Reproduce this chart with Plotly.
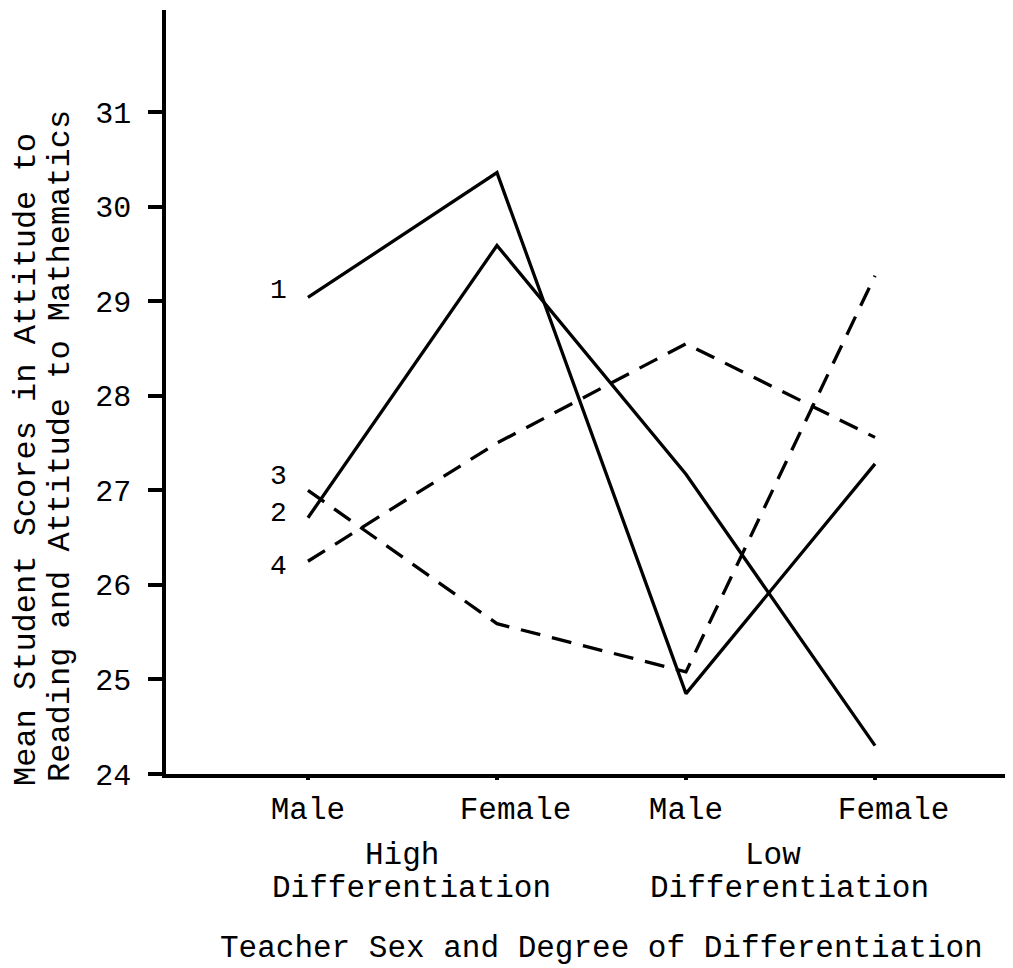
import plotly.graph_objects as go

# ---- data ----
categories = ["Male", "Female", "Male", "Female"]
tick_labels = ["Male", "\u00a0\u00a0Female", "Male", "\u00a0\u00a0Female"]
x_pos = [1, 2, 3, 4]
series_names = ["1", "2", "3", "4"]
line1 = [29.04, 30.36, 24.85, 27.28]
line2 = [26.71, 29.59, 27.17, 24.30]
line3 = [27.00, 25.59, 25.08, 29.27]
line4 = [26.25, 27.50, 28.55, 27.56]
y_ticks = [24, 25, 26, 27, 28, 29, 30, 31]
group_labels = [("High", "Differentiation"), ("Low", "Differentiation")]
x_title = "Teacher Sex and Degree of Differentiation"
y_title_lines = ["Mean Student Scores in Attitude to", "Reading and Attitude to Mathematics"]

FONT = "Liberation Mono"
series = [line1, line2, line3, line4]
dashes = ["solid", "solid", "20px,12px", "20px,12px"]

fig = go.Figure()
for name, vals, dash in zip(series_names, series, dashes):
    fig.add_trace(go.Scatter(
        x=x_pos, y=vals, mode="lines", name=name,
        line=dict(color="black", width=3.3, dash=dash),
        showlegend=False, hoverinfo="skip",
    ))

annotations = []
# series number labels near the start of each line
label_yshift = {"1": 7, "2": 4, "3": 14, "4": -5}
for name, vals in zip(series_names, series):
    annotations.append(dict(
        x=x_pos[0], y=vals[0], xref="x", yref="y", text=name, showarrow=False,
        xshift=-29, yshift=label_yshift[name],
        font=dict(family=FONT, size=28, color="black"),
        xanchor="center", yanchor="middle",
    ))

# group labels under the x axis
group_x = [1.5, 3.5]
group_shift = [(0, 9), (-8, 9)]
for gx, (l1, l2), (s1, s2) in zip(group_x, group_labels, group_shift):
    annotations.append(dict(x=gx, y=0, xref="x", yref="paper", text=l1, showarrow=False,
                            xshift=s1, yshift=-(855 - 774), xanchor="center", yanchor="middle",
                            font=dict(family=FONT, size=31, color="black")))
    annotations.append(dict(x=gx, y=0, xref="x", yref="paper", text=l2, showarrow=False,
                            xshift=s2, yshift=-(888 - 774), xanchor="center", yanchor="middle",
                            font=dict(family=FONT, size=31, color="black")))

# x axis title
annotations.append(dict(x=0.5136, y=0, xref="paper", yref="paper", text=x_title, showarrow=False,
                        yshift=-(948 - 774), xanchor="center", yanchor="middle",
                        font=dict(family=FONT, size=31, color="black")))

# y axis title (two lines, rotated)
for txt, cx, cy in zip(y_title_lines, [26, 60], [460, 446]):
    annotations.append(dict(x=0, y=0, xref="paper", yref="paper", text=txt, showarrow=False,
                            xshift=cx - 166, yshift=774 - cy, textangle=-90,
                            xanchor="center", yanchor="middle",
                            font=dict(family=FONT, size=32, color="black")))

# page body adds an 8px offset, so the figure is 8px smaller each way
fig.update_layout(
    width=1005, height=960,
    margin=dict(l=158, r=0, t=2, b=194),
    paper_bgcolor="white", plot_bgcolor="white",
    annotations=annotations,
    xaxis=dict(
        range=[0.249, 4.73], tickmode="array", tickvals=x_pos, ticktext=tick_labels,
        showline=True, linecolor="black", linewidth=3.5, showgrid=False, zeroline=False,
        ticks="outside", ticklen=2, tickwidth=4, tickcolor="black",
        tickfont=dict(family=FONT, size=31, color="black"),
        ticklabelstandoff=2,
    ),
    yaxis=dict(
        range=[24, 32.08], tickmode="array", tickvals=y_ticks,
        showline=True, linecolor="black", linewidth=3.5, showgrid=False, zeroline=False,
        ticks="outside", ticklen=14, tickwidth=3.5, tickcolor="black",
        tickfont=dict(family=FONT, size=30, color="black"),
        ticklabelstandoff=11,
    ),
)

fig.write_html("out.html")
